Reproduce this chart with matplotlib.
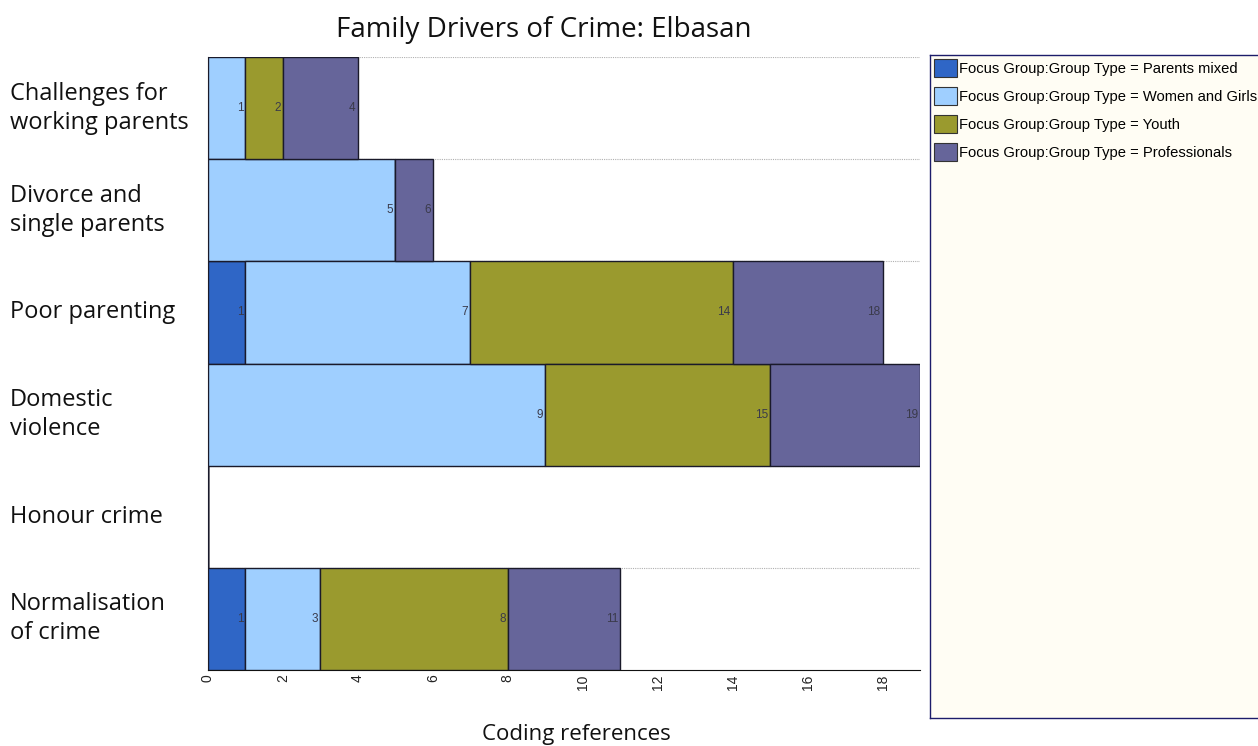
import matplotlib
matplotlib.use("Agg")
import matplotlib.pyplot as plt
import matplotlib.transforms as mtransforms
from matplotlib.patches import Patch
import numpy as np

categories = ["Challenges for\nworking parents", "Divorce and\nsingle parents", "Poor parenting",
              "Domestic\nviolence", "Honour crime", "Normalisation\nof crime"]
series_names = ["Focus Group:Group Type = Parents mixed",
                "Focus Group:Group Type = Women and Girls",
                "Focus Group:Group Type = Youth",
                "Focus Group:Group Type = Professionals"]
parents_mixed = [0, 0, 1, 0, 0, 1]
women_girls = [1, 5, 6, 9, 0, 2]
youth = [1, 0, 7, 6, 0, 5]
professionals = [2, 1, 4, 4, 0, 3]
xticks = [0, 2, 4, 6, 8, 10, 12, 14, 16, 18]

colors = ["#2f66c6", "#9fcfff", "#9a9a2e", "#66659a"]
series = [parents_mixed, women_girls, youth, professionals]

fig = plt.figure(figsize=(12.58, 7.46), dpi=100)
ax = fig.add_axes([208/1258, 1-670/746, (920-208)/1258, (670-57)/746])

y = np.arange(len(categories))
left = np.zeros(len(categories))
for vals, col in zip(series, colors):
    vals = np.array(vals, dtype=float)
    ax.barh(y, vals, left=left, height=1.0, color=col, edgecolor="#1a1a2a", linewidth=1.0, zorder=3)
    cum = left + vals
    for yi, v, c in zip(y, vals, cum):
        if v > 0:
            ax.text(c - 0.06, yi, f"{int(c)}", ha="right", va="center", fontsize=8.5,
                    color="#3a3a4a", zorder=4, family="Liberation Sans")
    left = cum

ax.set_xlim(0, 19)
ax.set_ylim(len(categories) - 0.5, -0.5)
for b in np.arange(-0.5, len(categories) - 0.5, 1.0):
    ax.axhline(b, color="#b0b0b0", linestyle=(0, (1, 1)), linewidth=0.8, zorder=1)

ax.set_yticks([])
ax.set_xticks(xticks)
ax.set_xticklabels([str(t) for t in xticks], rotation=90, fontsize=10, family="Liberation Sans", color="#222222")
ax.tick_params(axis="x", length=0, pad=3)
ax.spines["top"].set_visible(False)
ax.spines["right"].set_visible(False)
ax.spines["left"].set_color("#111111")
ax.spines["bottom"].set_color("#111111")

trans = mtransforms.blended_transform_factory(fig.transFigure, ax.transData)
for yi, cat in zip(y, categories):
    ax.text(10/1258, yi, cat, transform=trans, ha="left", va="center", fontsize=17,
            family="Open Sans", linespacing=1.28, color="#111111")

fig.text(544/1258, 1-30/746, "Family Drivers of Crime: Elbasan", ha="center", va="center",
         fontsize=20, family="Open Sans", color="#111111")
fig.text(576/1258, 1-740/746, "Coding references", ha="center", va="baseline",
         fontsize=16, family="Open Sans", color="#111111")

# legend box
lax = fig.add_axes([930/1258, 1-718/746, 340/1258, (718-55)/746])
lax.set_facecolor("#fffdf4")
lax.set_xticks([])
lax.set_yticks([])
for s in lax.spines.values():
    s.set_color("#1c1c6a")
    s.set_linewidth(1.0)
handles = [Patch(facecolor=c, edgecolor="#333333", linewidth=0.8) for c in colors]
leg = lax.legend(handles, series_names, loc="upper left", bbox_to_anchor=(0.0, 1.0),
                 frameon=False, prop={"family": "Liberation Sans", "size": 10.6},
                 handlelength=1.5, handleheight=1.5, handletextpad=0.2,
                 labelspacing=0.68, borderaxespad=0.0, borderpad=0.3)

fig.savefig("out.png", dpi=100)
